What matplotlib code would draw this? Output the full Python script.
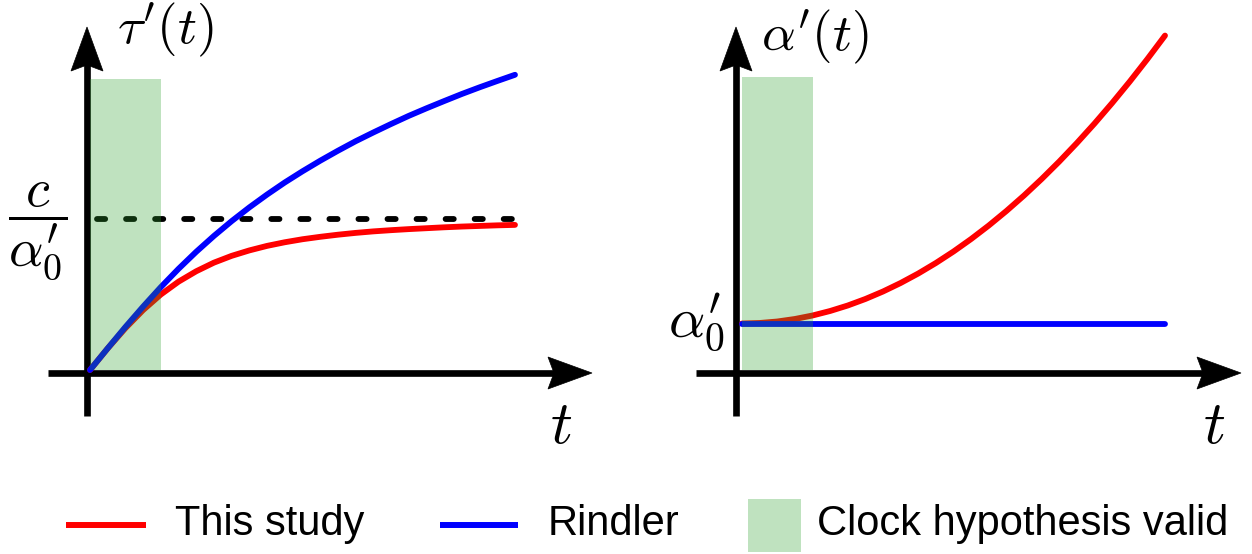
import matplotlib.pyplot as plt
from matplotlib.patches import Polygon, Rectangle

plt.rcParams['mathtext.fontset'] = 'cm'

# time grid (units of c / alpha'_0 scaled)
t = [0, 0.25, 0.5, 0.75, 1.0, 1.25, 1.5, 1.75, 2.0, 2.25, 2.5, 2.75, 3.0,
     3.25, 3.5, 3.75, 4.0, 4.25, 4.5, 4.75, 5.0, 5.25, 5.5, 5.75, 6.0]

# left panel: proper time tau'(t), in units of c / alpha'_0
tau_rindler = [0, 0.144, 0.285, 0.420, 0.549, 0.670, 0.783, 0.888, 0.986,
               1.077, 1.162, 1.242, 1.316, 1.386, 1.452, 1.515, 1.573, 1.629,
               1.683, 1.733, 1.781, 1.828, 1.872, 1.914, 1.955]
tau_study = [0, 0.143, 0.277, 0.397, 0.500, 0.585, 0.654, 0.711, 0.756,
             0.792, 0.822, 0.846, 0.866, 0.882, 0.896, 0.908, 0.918, 0.926,
             0.933, 0.939, 0.945, 0.950, 0.954, 0.958, 0.961]
tau_limit = 1.0  # c / alpha'_0
t_limit = [0.1, 6.0]

# right panel: acceleration alpha'(t), in units of alpha'_0
alpha_study = [1.000, 1.011, 1.043, 1.097, 1.172, 1.269, 1.387, 1.527, 1.688,
               1.871, 2.075, 2.301, 2.548, 2.817, 3.107, 3.419, 3.752, 4.107,
               4.483, 4.881, 5.300, 5.741, 6.203, 6.687, 7.192]
t_flat = [0, 6]
alpha_rindler = [1.0, 1.0]

# region where the clock hypothesis holds
clock_t = [0, 1]
clock_top_left = 1.93
clock_top_right = 6.3

W, H = 1252, 554
fig = plt.figure(figsize=(W / 100, H / 100), dpi=100)

# pixel overlay for axis arrows, labels and legend
px = fig.add_axes([0, 0, 1, 1])
px.set_xlim(0, W)
px.set_ylim(H, 0)
px.axis('off')


def data_axes(x0, sx, y0, sy):
    """Full-figure axes where data (0,0) sits at pixel (x0, y0)."""
    ax = fig.add_axes([0, 0, 1, 1])
    ax.set_xlim(-x0 / sx, (W - x0) / sx)
    ax.set_ylim((y0 - H) / sy, y0 / sy)
    ax.axis('off')
    return ax


def arrow(x0, y0, x1, y1, L=44, hw=16, notch=6, lw=4.8):
    dx, dy = x1 - x0, y1 - y0
    n = (dx ** 2 + dy ** 2) ** 0.5
    ux, uy = dx / n, dy / n
    nx, ny = -uy, ux
    bx, by = x1 - L * ux, y1 - L * uy
    kx, ky = x1 - (L - notch) * ux, y1 - (L - notch) * uy
    px.plot([x0, kx + 2 * ux], [y0, ky + 2 * uy], color='black', lw=lw,
            solid_capstyle='butt')
    head = Polygon([(x1, y1), (bx + hw * nx, by + hw * ny), (kx, ky),
                    (bx - hw * nx, by - hw * ny)], closed=True,
                   facecolor='black', edgecolor='black', lw=0.5)
    px.add_patch(head)


# axes arrows
arrow(48, 373, 592, 373)
arrow(87, 416, 87, 27)
arrow(696, 373, 1241, 373)
arrow(736, 416, 736, 27)

lw = 4.2
ax1 = data_axes(90, 70.83, 370, 151)
ax1.plot(t, tau_study, color='red', lw=lw, solid_capstyle='round', zorder=3)
ax1.plot(t, tau_rindler, color='blue', lw=lw, solid_capstyle='round', zorder=3)
ax1.plot(t_limit, [tau_limit, tau_limit], color='black', lw=4.2,
         dashes=(1.4, 3.58), dash_capstyle='round', zorder=2)
ax1.fill_between(clock_t, 0, clock_top_left, color='tab:green', alpha=0.3,
                 lw=0, zorder=5)

ax2 = data_axes(742, 70.5, 370, 46.5)
ax2.plot(t, alpha_study, color='red', lw=lw, solid_capstyle='round', zorder=3)
ax2.plot(t_flat, alpha_rindler, color='blue', lw=lw, solid_capstyle='round',
         zorder=3)
ax2.fill_between(clock_t, 0, clock_top_right, color='tab:green', alpha=0.3,
                 lw=0, zorder=5)

# math labels
px.text(165, 30, r"$\tau'(t)$", fontsize=38, ha='center', va='center')
px.text(561, 427, r"$t$", fontsize=44, ha='center', va='center')
px.text(38, 231, r"$\dfrac{c}{\alpha^{\prime}_{0}}$", fontsize=39,
        ha='center', va='center')
px.text(815, 37, r"$\alpha'(t)$", fontsize=38, ha='center', va='center')
px.text(1214, 426, r"$t$", fontsize=44, ha='center', va='center')
px.text(696, 323, r"$\alpha^{\prime}_{0}$", fontsize=41, ha='center',
        va='center')

# legend
font = dict(fontsize=30, family='Liberation Sans', va='baseline')
px.plot([66, 146], [525, 525], color='red', lw=4.3, solid_capstyle='butt')
px.text(175, 535, 'This study', **font)
px.plot([440, 518], [525, 525], color='blue', lw=4.3, solid_capstyle='butt')
px.text(548, 535, 'Rindler', **font)
px.add_patch(Rectangle((748, 499), 53, 53, facecolor='tab:green', alpha=0.3,
                       lw=0))
px.text(817, 535, 'Clock hypothesis valid', **font)

fig.savefig('out.png', dpi=100)
